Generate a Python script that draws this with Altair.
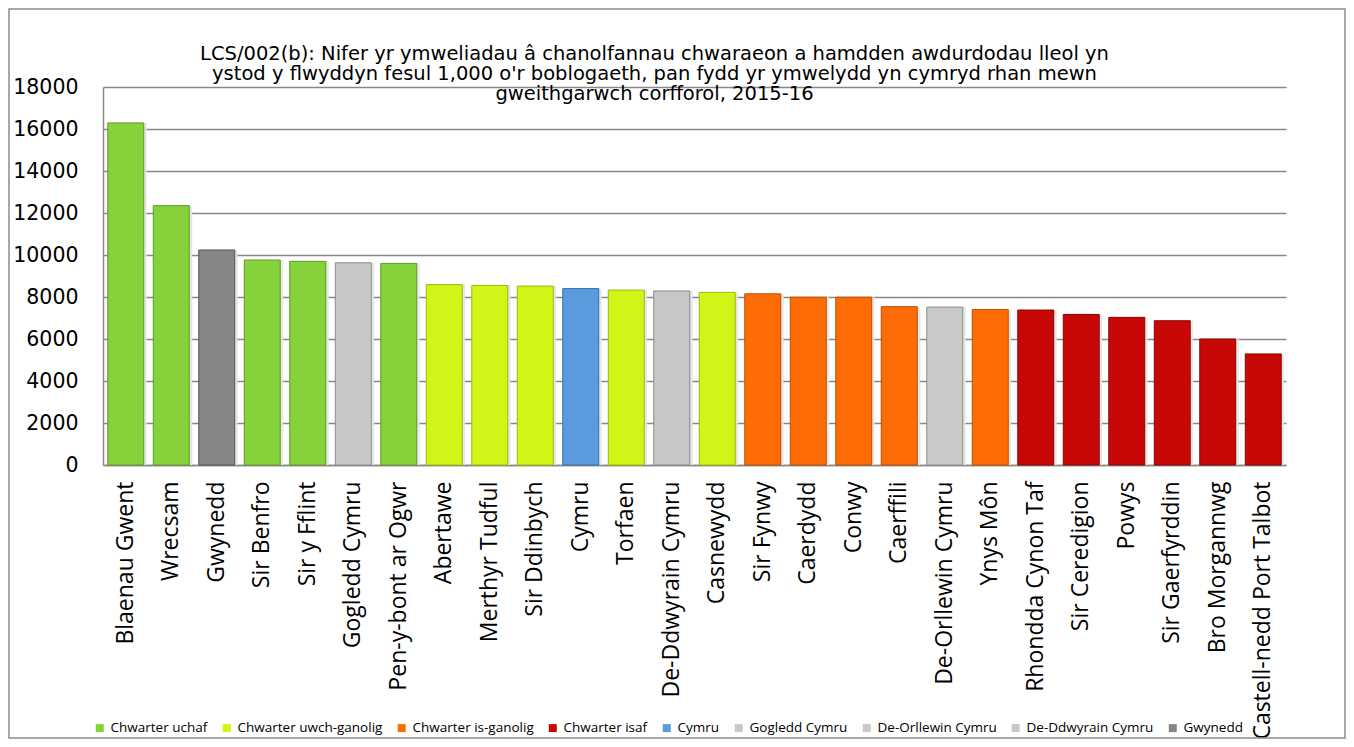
import altair as alt
import pandas as pd

areas = ["Blaenau Gwent", "Wrecsam", "Gwynedd", "Sir Benfro", "Sir y Fflint",
         "Gogledd Cymru", "Pen-y-bont ar Ogwr", "Abertawe", "Merthyr Tudful",
         "Sir Ddinbych", "Cymru", "Torfaen", "De-Ddwyrain Cymru", "Casnewydd",
         "Sir Fynwy", "Caerdydd", "Conwy", "Caerffili", "De-Orllewin Cymru",
         "Ynys Môn", "Rhondda Cynon Taf", "Sir Ceredigion", "Powys",
         "Sir Gaerfyrddin", "Bro Morgannwg", "Castell-nedd Port Talbot"]
values = [16290, 12350, 10240, 9760, 9700, 9630, 9600, 8590, 8550, 8520,
          8400, 8330, 8290, 8220, 8150, 7990, 7990, 7540, 7520, 7400, 7380,
          7170, 7030, 6870, 6000, 5290]
groups = ["Chwarter uchaf", "Chwarter uchaf", "Gwynedd", "Chwarter uchaf",
          "Chwarter uchaf", "Gogledd Cymru", "Chwarter uchaf",
          "Chwarter uwch-ganolig", "Chwarter uwch-ganolig", "Chwarter uwch-ganolig",
          "Cymru", "Chwarter uwch-ganolig", "De-Ddwyrain Cymru",
          "Chwarter uwch-ganolig", "Chwarter is-ganolig", "Chwarter is-ganolig",
          "Chwarter is-ganolig", "Chwarter is-ganolig", "De-Orllewin Cymru",
          "Chwarter is-ganolig", "Chwarter isaf", "Chwarter isaf", "Chwarter isaf",
          "Chwarter isaf", "Chwarter isaf", "Chwarter isaf"]

legend_order = ["Chwarter uchaf", "Chwarter uwch-ganolig", "Chwarter is-ganolig",
                "Chwarter isaf", "Cymru", "Gogledd Cymru", "De-Orllewin Cymru",
                "De-Ddwyrain Cymru", "Gwynedd"]
fill_colors = ["#86D23B", "#D3F417", "#FF6C05", "#C80707", "#5A9BDE",
               "#C8C8C8", "#C9C9C9", "#C7C7C7", "#858585"]
edge_colors = ["#5E9A26", "#9DB80E", "#B84C02", "#8A0404", "#3A6FA8",
               "#8C8C8C", "#8D8D8D", "#8B8B8B", "#555555"]

title_lines = [
    "LCS/002(b): Nifer yr ymweliadau â chanolfannau chwaraeon a hamdden awdurdodau lleol yn",
    "ystod y flwyddyn fesul 1,000 o'r boblogaeth, pan fydd yr ymwelydd yn cymryd rhan mewn",
    "gweithgarwch corfforol, 2015-16",
]

df = pd.DataFrame({"area": areas, "value": values, "group": groups})

W, H = 1183, 378
PAD_L, PAD_T, PAD_R, PAD_B = 95, 79, 60, 274

x_enc = alt.X("area:N", sort=areas, title=None,
              scale=alt.Scale(paddingInner=0.21, paddingOuter=0.105),
              axis=alt.Axis(labelAngle=-90, labelFont="Open Sans", labelFontSize=23,
                            labelColor="black", labelPadding=16, labelLimit=400,
                            ticks=False, domainColor="#888888", domainWidth=1.5,
                            grid=False))
y_enc = alt.Y("value:Q", title=None,
              scale=alt.Scale(domain=[0, 18000], nice=False),
              axis=alt.Axis(values=list(range(0, 18001, 2000)), labelFont="DejaVu Sans",
                            labelFontSize=20.5, labelColor="black", labelPadding=25,
                            ticks=False, domainColor="#888888", domainWidth=1.5,
                            gridColor="#888888", gridWidth=1.5, format="d"))

shadow = alt.Chart(df).mark_bar(color="#e4e4e4", xOffset=3, opacity=0.9).encode(
    x=x_enc, y=y_enc,
)

bars = alt.Chart(df).mark_bar(strokeWidth=1).encode(
    x=x_enc, y=y_enc,
    color=alt.Color("group:N", sort=legend_order,
                    scale=alt.Scale(domain=legend_order, range=fill_colors),
                    legend=alt.Legend(title=None, orient="none", direction="horizontal",
                                      legendX=-10, legendY=634, symbolType="square",
                                      symbolSize=64, symbolStrokeWidth=0,
                                      labelFont="Open Sans", labelFontSize=13.5,
                                      labelColor="black", columnPadding=12,
                                      labelOffset=4, columns=9)),
    stroke=alt.Stroke("group:N", scale=alt.Scale(domain=legend_order, range=edge_colors),
                      legend=None),
)

border = alt.Chart(alt.Data(values=[{"k": 1}])).mark_rect(
    fill=None, stroke="#8c8c8c", strokeWidth=1.5
).encode(
    x=alt.value(-PAD_L + 1), x2=alt.value(W + PAD_R - 1),
    y=alt.value(-PAD_T + 1), y2=alt.value(H + PAD_B - 1),
)

chart = alt.layer(shadow, bars, border).properties(
    width=W, height=H,
    autosize=alt.AutoSizeParams(type="none"),
    padding={"left": PAD_L, "top": PAD_T, "right": PAD_R, "bottom": PAD_B},
    background="white",
    title=alt.Title(title_lines, font="DejaVu Sans", fontSize=19.5, fontWeight="normal",
                    color="black", anchor="middle", frame="group", lineHeight=20,
                    offset=-96, dx=-40),
).configure_view(stroke=None)

chart.save("out.html", embed_options={"renderer": "svg", "actions": False})
